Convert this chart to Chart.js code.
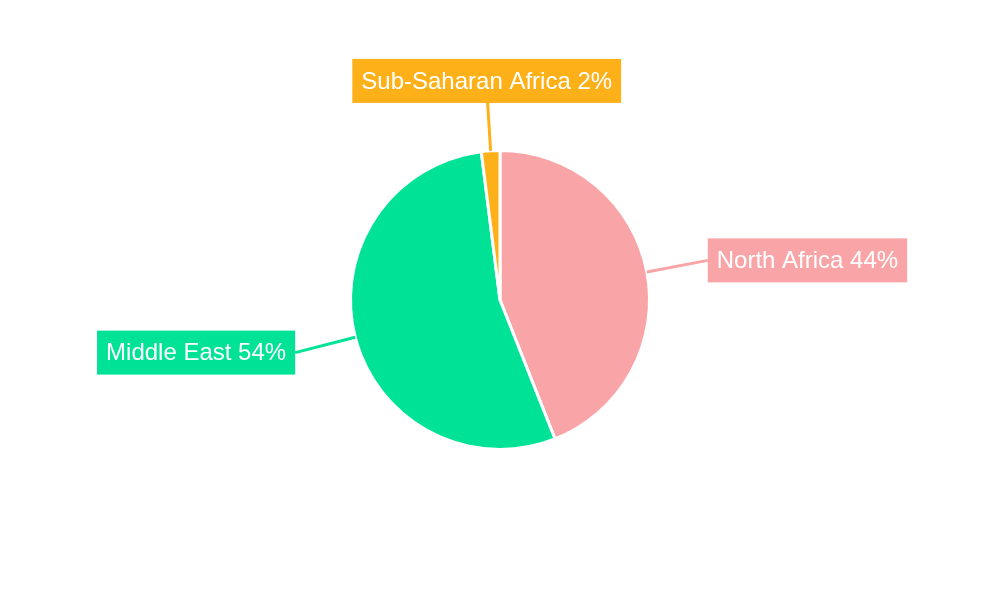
<!DOCTYPE html>
<html>
<head>
<meta charset="utf-8">
<script src="https://cdn.jsdelivr.net/npm/chart.js@4.4.1/dist/chart.umd.min.js"></script>
<style>
  html, body { margin: 0; padding: 0; background: #fff; }
  #wrap { width: 1000px; height: 600px; }
</style>
</head>
<body>
<div id="wrap"><canvas id="chart"></canvas></div>
<script>
const regions = ["North Africa", "Middle East", "Sub-Saharan Africa"];
const shares = [44, 54, 2];
const sliceColors = ["#F9A5A7", "#00E396", "#FEB019"];

const FONT = "Liberation Sans, Arial, sans-serif";

// callout lines + boxed labels outside the pie
const calloutLabels = {
  id: "calloutLabels",
  afterDatasetsDraw(chart) {
    const ctx = chart.ctx;
    const meta = chart.getDatasetMeta(0);
    ctx.save();
    ctx.font = "24px " + FONT;
    ctx.textBaseline = "middle";
    meta.data.forEach((arc, i) => {
      const mid = (arc.startAngle + arc.endAngle) / 2;
      const cos = Math.cos(mid), sin = Math.sin(mid);
      const r0 = arc.outerRadius;
      const r1 = r0 + 62;
      const x0 = arc.x + cos * r0, y0 = arc.y + sin * r0;
      const x1 = arc.x + cos * r1, y1 = arc.y + sin * r1;
      ctx.strokeStyle = sliceColors[i];
      ctx.lineWidth = 3;
      ctx.beginPath();
      ctx.moveTo(x0, y0);
      ctx.lineTo(x1, y1);
      ctx.stroke();

      const text = regions[i] + " " + shares[i] + "%";
      const w = ctx.measureText(text).width + 18;
      const h = 44;
      let bx, by;
      if (Math.abs(cos) > 0.5) {
        bx = cos > 0 ? x1 : x1 - w;
        by = y1 - h / 2;
      } else {
        bx = x1 - w / 2;
        by = sin < 0 ? y1 - h + 14 : y1 - 14;
      }
      ctx.fillStyle = sliceColors[i];
      ctx.fillRect(bx, by, w, h);
      ctx.fillStyle = "#ffffff";
      ctx.textAlign = "center";
      ctx.fillText(text, bx + w / 2, by + h / 2 + 1);
    });
    ctx.restore();
  }
};

new Chart(document.getElementById("chart"), {
  type: "pie",
  data: {
    labels: regions,
    datasets: [{
      data: shares,
      backgroundColor: sliceColors,
      borderColor: "#ffffff",
      borderWidth: 3
    }]
  },
  options: {
    responsive: true,
    maintainAspectRatio: false,
    animation: false,
    layout: { padding: { top: 149, bottom: 149 } },
    plugins: {
      legend: { display: false },
      tooltip: { enabled: false }
    }
  },
  plugins: [calloutLabels]
});
</script>
</body>
</html>
